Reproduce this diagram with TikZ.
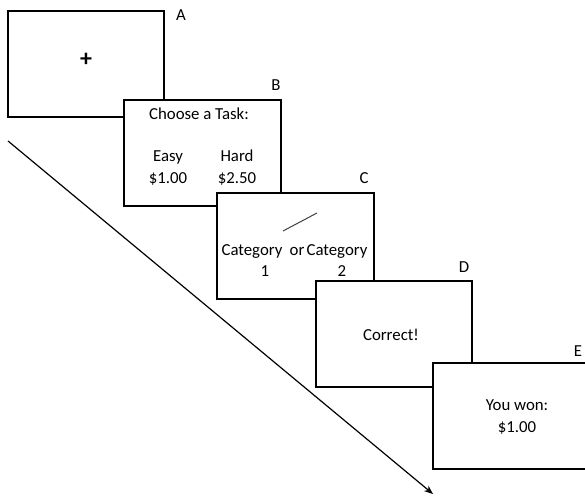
\documentclass[tikz,border=0pt]{standalone}
\usepackage{fontspec}
\setmainfont{Carlito}
\usetikzlibrary{arrows.meta}
\begin{document}
\begin{tikzpicture}[x=1pt,y=-1pt,
  screen/.style={draw=black,line width=1.6pt,fill=white,rectangle,inner sep=0pt},
  txt/.style={font=\fontsize{16.8}{22}\selectfont,inner sep=0pt,anchor=center},
  lab/.style={font=\fontsize{16.8}{22}\selectfont,inner sep=0pt}]
\useasboundingbox (0,0) rectangle (585,497);
% time arrow
\coordinate (t0) at (8,141);
\coordinate (t1) at (433,494);
\draw[line width=1.2pt,-{Stealth[length=9pt,width=7pt]}] (t0) -- (t1);
% screens
\node[screen,minimum width=156pt,minimum height=106pt] (A) at (86,64) {};
\node[screen,minimum width=157pt,minimum height=106pt] (B) at (202.5,153) {};
\node[screen,minimum width=157pt,minimum height=106pt] (C) at (295.5,246) {};
\node[screen,minimum width=156pt,minimum height=106pt] (D) at (394,334) {};
\node[screen,minimum width=160pt,minimum height=106pt] (E) at (513,416) {};
% labels
\node[lab] (la) at (181,15) {A};
\node[lab] (lb) at (276,85) {B};
\node[lab] (lc) at (364,178) {C};
\node[lab] (ld) at (464,267) {D};
\node[lab] (le) at (578,351) {E};
% A content
\node[txt,font=\fontsize{24}{24}\bfseries] (plus) at (86,60) {+};
% B content
\node[txt] (choose) at (199,114) {Choose a Task:};
\node[txt,align=center] (easy) at (168,168) {Easy\\\$1.00};
\node[txt,align=center] (hard) at (237,168) {Hard\\\$2.50};
% C content
\coordinate (s0) at (283,231);
\coordinate (s1) at (317,213);
\draw[line width=1pt,black!75] (s0) -- (s1);
\node[txt] (cat1) at (252,251) {Category};
\node[txt] (or) at (297,251) {or};
\node[txt] (cat2) at (337,251) {Category};
\node[txt] (n1) at (265,271) {1};
\node[txt] (n2) at (342,271) {2};
% D content
\node[txt] (corr) at (391,335) {Correct!};
% E content
\node[txt,align=center] (won) at (517,417) {You won:\\\$1.00};
\end{tikzpicture}
\end{document}
